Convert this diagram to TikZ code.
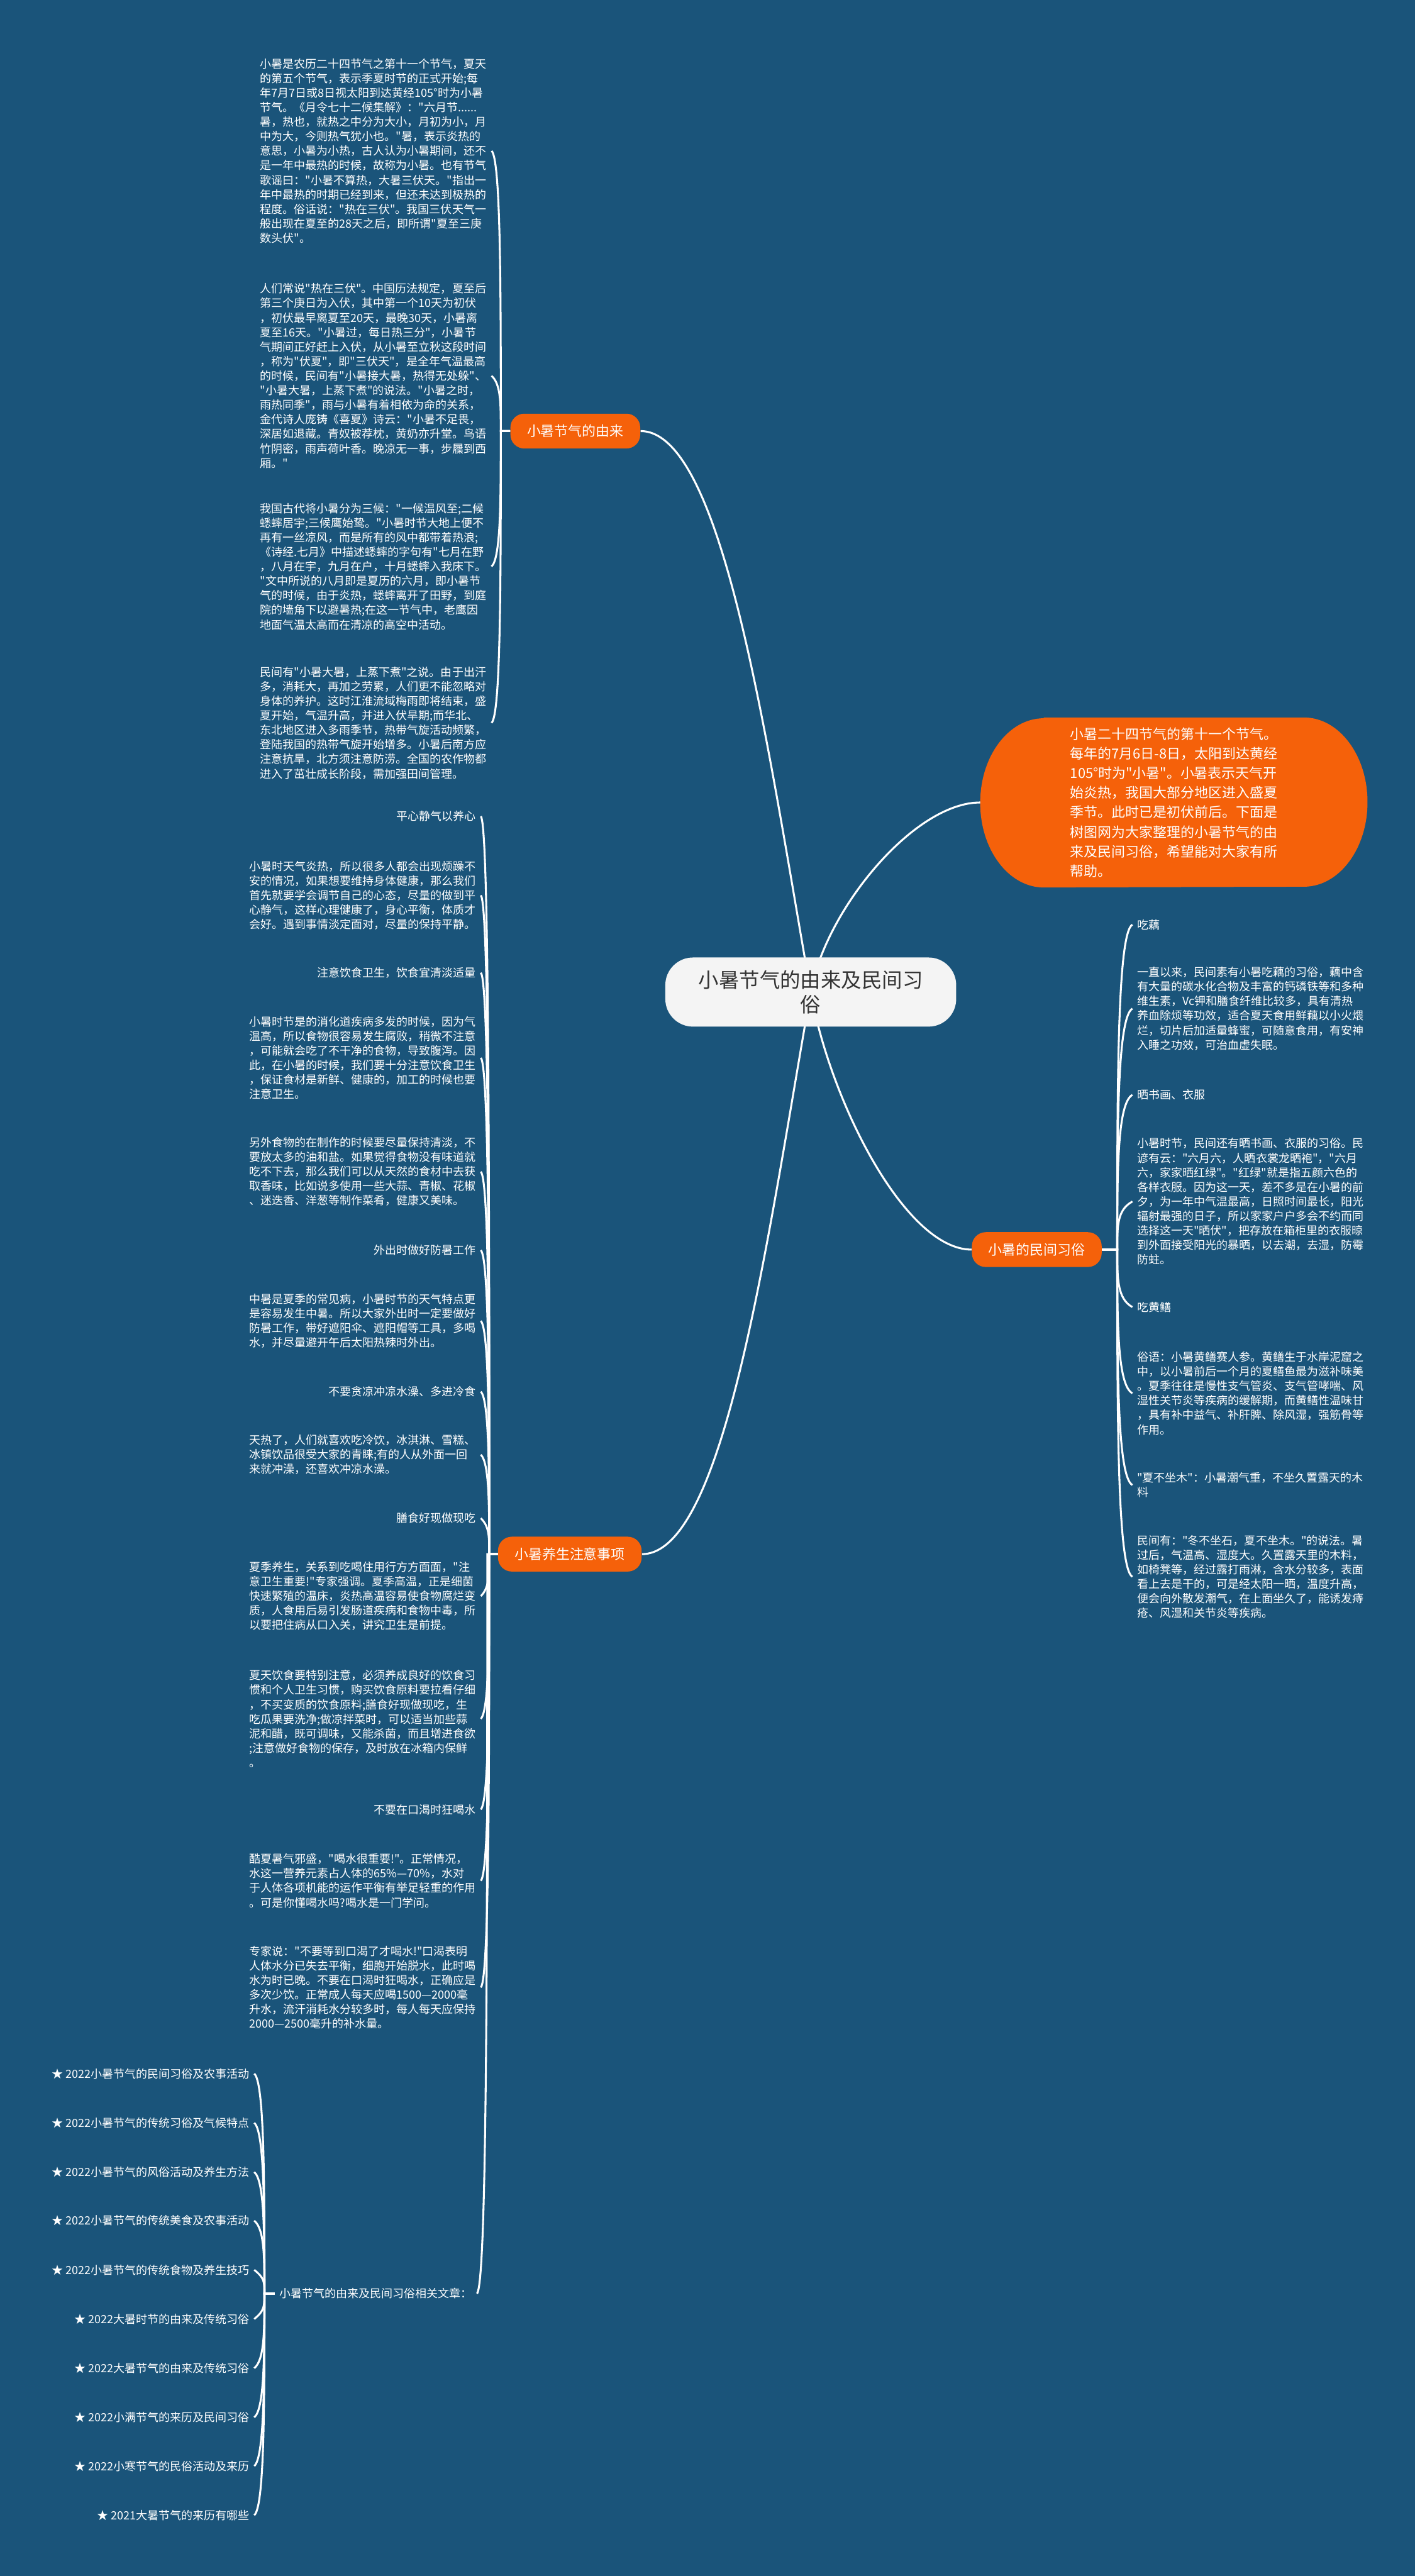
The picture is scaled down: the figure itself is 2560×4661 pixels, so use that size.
\documentclass[tikz,border=0pt]{standalone}
\usepackage{fontspec}
\newfontfamily\cjk{Noto Sans CJK SC}
\usetikzlibrary{calc}
\definecolor{bgc}{RGB}{26,84,122}
\definecolor{orc}{RGB}{245,97,10}
\definecolor{rootc}{RGB}{244,244,244}
\definecolor{roottext}{RGB}{51,51,51}
\pgfdeclarelayer{back}\pgfdeclarelayer{shape}\pgfsetlayers{back,shape,main}
\tikzset{
 conn/.style={draw=white,line width=0.035cm},
 txt/.style={font=\cjk\fontsize{5.83pt}{7.48pt}\selectfont,text=white,inner xsep=0.08cm,inner ysep=0.02cm,align=left},
 branch/.style={fill=orc,rounded corners=0.25cm,text=white,font=\cjk\fontsize{7.1pt}{8.5pt}\selectfont,minimum height=0.63cm,inner xsep=0.3cm},
 rootnode/.style={fill=rootc,rounded corners=0.5cm,text=roottext,font=\cjk\fontsize{10.5pt}{12.8pt}\selectfont,minimum width=5.26cm,minimum height=1.25cm,align=center},
 topright/.style={text=white,font=\cjk\fontsize{7.1pt}{10.1pt}\selectfont,minimum width=6.99cm,minimum height=3.06cm,align=left,inner sep=0pt}
}
\newcommand\mcon[2]{\draw[conn] let \p1=(#1), \p2=(#2), \n1={0.5*(\x1+\x2)}, \n2={0.5*(\y1+\y2)}, \n3={\y2+max(-4.27,min(4.27,0.5*(\y1-\y2)))} in (\p1) -- (\n1,\y1) .. controls (\n1,\n2) and (\n1,\n3) .. (\p2);}
\begin{document}
\begin{tikzpicture}[x=0.01cm,y=-0.01cm]
\useasboundingbox (0,0) rectangle (2560,4661);
\begin{pgfonlayer}{back}
\fill[bgc] (0,0) rectangle (2560,4661);
\end{pgfonlayer}

% root and branches
\node[rootnode] (root) at (1467,1795) {小暑节气的由来及民间习\\俗};
\node[branch] (b1) at (1041,780) {小暑节气的由来};
\node[branch] (b2) at (1031,2812) {小暑养生注意事项};
\node[branch] (b3) at (1876,2261) {小暑的民间习俗};
\node[topright] (tr) at (2124,1452) {小暑二十四节气的第十一个节气。\\%
每年的7月6日-8日，太阳到达黄经\\%
105°时为"小暑"。小暑表示天气开\\%
始炎热，我国大部分地区进入盛夏\\%
季节。此时已是初伏前后。下面是\\%
树图网为大家整理的小暑节气的由\\%
来及民间习俗，希望能对大家有所\\%
帮助。};
\begin{pgfonlayer}{shape}
\fill[orc] ([xshift=1.15cm]tr.north west) -- ([xshift=-1.15cm]tr.north east) arc[start angle=90,end angle=-90,x radius=1.15cm,y radius=1.53cm] -- ([xshift=1.15cm]tr.south west) arc[start angle=270,end angle=90,x radius=1.15cm,y radius=1.53cm] -- cycle;
\draw[conn] (root.center) to[out=100,in=0,out distance=4.5cm,in distance=1.5cm] (b1.east);
\draw[conn] (root.center) to[out=-100,in=0,out distance=4.5cm,in distance=1.5cm] (b2.east);
\draw[conn] (root.center) to[out=80,in=180,out distance=1.5cm,in distance=1.2cm] (tr.west);
\draw[conn] (root.center) to[out=-80,in=180,out distance=2cm,in distance=1.2cm] (b3.west);
\end{pgfonlayer}

% origin blocks
\node[txt,anchor=west] (t1) at (462,273) {小暑是农历二十四节气之第十一个节气，夏天\\%
的第五个节气，表示季夏时节的正式开始;每\\%
年7月7日或8日视太阳到达黄经105°时为小暑\\%
节气。《月令七十二候集解》："六月节......\\%
暑，热也，就热之中分为大小，月初为小，月\\%
中为大，今则热气犹小也。"暑，表示炎热的\\%
意思，小暑为小热，古人认为小暑期间，还不\\%
是一年中最热的时候，故称为小暑。也有节气\\%
歌谣曰："小暑不算热，大暑三伏天。"指出一\\%
年中最热的时期已经到来，但还未达到极热的\\%
程度。俗话说："热在三伏"。我国三伏天气一\\%
般出现在夏至的28天之后，即所谓"夏至三庚\\%
数头伏"。};
\node[txt,anchor=west] (t2) at (462,680) {人们常说"热在三伏"。中国历法规定，夏至后\\%
第三个庚日为入伏，其中第一个10天为初伏\\%
，初伏最早离夏至20天，最晚30天，小暑离\\%
夏至16天。"小暑过，每日热三分"，小暑节\\%
气期间正好赶上入伏，从小暑至立秋这段时间\\%
，称为"伏夏"，即"三伏天"，是全年气温最高\\%
的时候，民间有"小暑接大暑，热得无处躲"、\\%
"小暑大暑，上蒸下煮"的说法。"小暑之时，\\%
雨热同季"，雨与小暑有着相依为命的关系，\\%
金代诗人庞铸《喜夏》诗云："小暑不足畏，\\%
深居如退藏。青奴被荐枕，黄奶亦升堂。鸟语\\%
竹阴密，雨声荷叶香。晚凉无一事，步屧到西\\%
厢。"};
\node[txt,anchor=west] (t3) at (462,1025) {我国古代将小暑分为三候："一候温风至;二候\\%
蟋蟀居宇;三候鹰始鸷。"小暑时节大地上便不\\%
再有一丝凉风，而是所有的风中都带着热浪;\\%
《诗经.七月》中描述蟋蟀的字句有"七月在野\\%
，八月在宇，九月在户，十月蟋蟀入我床下。\\%
"文中所说的八月即是夏历的六月，即小暑节\\%
气的时候，由于炎热，蟋蟀离开了田野，到庭\\%
院的墙角下以避暑热;在这一节气中，老鹰因\\%
地面气温太高而在清凉的高空中活动。};
\node[txt,anchor=west] (t4) at (462,1308) {民间有"小暑大暑，上蒸下煮"之说。由于出汗\\%
多，消耗大，再加之劳累，人们更不能忽略对\\%
身体的养护。这时江淮流域梅雨即将结束，盛\\%
夏开始，气温升高，并进入伏旱期;而华北、\\%
东北地区进入多雨季节，热带气旋活动频繁，\\%
登陆我国的热带气旋开始增多。小暑后南方应\\%
注意抗旱，北方须注意防涝。全国的农作物都\\%
进入了茁壮成长阶段，需加强田间管理。};

% health blocks
\node[txt,anchor=east] (h1) at (870,1477) {平心静气以养心};
\node[txt,anchor=east] (H1) at (870,1620) {小暑时天气炎热，所以很多人都会出现烦躁不\\%
安的情况，如果想要维持身体健康，那么我们\\%
首先就要学会调节自己的心态，尽量的做到平\\%
心静气，这样心理健康了，身心平衡，体质才\\%
会好。遇到事情淡定面对，尽量的保持平静。};
\node[txt,anchor=east] (h2) at (870,1760) {注意饮食卫生，饮食宜清淡适量};
\node[txt,anchor=east] (H2) at (870,1914) {小暑时节是的消化道疾病多发的时候，因为气\\%
温高，所以食物很容易发生腐败，稍微不注意\\%
，可能就会吃了不干净的食物，导致腹泻。因\\%
此，在小暑的时候，我们要十分注意饮食卫生\\%
，保证食材是新鲜、健康的，加工的时候也要\\%
注意卫生。};
\node[txt,anchor=east] (H3) at (870,2120) {另外食物的在制作的时候要尽量保持清淡，不\\%
要放太多的油和盐。如果觉得食物没有味道就\\%
吃不下去，那么我们可以从天然的食材中去获\\%
取香味，比如说多使用一些大蒜、青椒、花椒\\%
、迷迭香、洋葱等制作菜肴，健康又美味。};
\node[txt,anchor=east] (h3) at (870,2262) {外出时做好防暑工作};
\node[txt,anchor=east] (H4) at (870,2390) {中暑是夏季的常见病，小暑时节的天气特点更\\%
是容易发生中暑。所以大家外出时一定要做好\\%
防暑工作，带好遮阳伞、遮阳帽等工具，多喝\\%
水，并尽量避开午后太阳热辣时外出。};
\node[txt,anchor=east] (h4) at (870,2518) {不要贪凉冲凉水澡、多进冷食};
\node[txt,anchor=east] (H5) at (870,2632) {天热了，人们就喜欢吃冷饮，冰淇淋、雪糕、\\%
冰镇饮品很受大家的青睐;有的人从外面一回\\%
来就冲澡，还喜欢冲凉水澡。};
\node[txt,anchor=east] (h5) at (870,2747) {膳食好现做现吃};
\node[txt,anchor=east] (H6) at (870,2888) {夏季养生，关系到吃喝住用行方方面面，"注\\%
意卫生重要!"专家强调。夏季高温，正是细菌\\%
快速繁殖的温床，炎热高温容易使食物腐烂变\\%
质，人食用后易引发肠道疾病和食物中毒，所\\%
以要把住病从口入关，讲究卫生是前提。};
\node[txt,anchor=east] (H7) at (870,3110) {夏天饮食要特别注意，必须养成良好的饮食习\\%
惯和个人卫生习惯，购买饮食原料要拉看仔细\\%
，不买变质的饮食原料;膳食好现做现吃，生\\%
吃瓜果要洗净;做凉拌菜时，可以适当加些蒜\\%
泥和醋，既可调味，又能杀菌，而且增进食欲\\%
;注意做好食物的保存，及时放在冰箱内保鲜\\%
。};
\node[txt,anchor=east] (h6) at (870,3274) {不要在口渴时狂喝水};
\node[txt,anchor=east] (H8) at (870,3403) {酷夏暑气邪盛，"喝水很重要!"。正常情况，\\%
水这一营养元素占人体的65\%—70\%，水对\\%
于人体各项机能的运作平衡有举足轻重的作用\\%
。可是你懂喝水吗?喝水是一门学问。};
\node[txt,anchor=east] (H9) at (870,3596) {专家说："不要等到口渴了才喝水!"口渴表明\\%
人体水分已失去平衡，细胞开始脱水，此时喝\\%
水为时已晚。不要在口渴时狂喝水，正确应是\\%
多次少饮。正常成人每天应喝1500—2000毫\\%
升水，流汗消耗水分较多时，每人每天应保持\\%
2000—2500毫升的补水量。};
\node[txt,anchor=west] (rel) at (497,4150) {小暑节气的由来及民间习俗相关文章：};

% list
\node[txt,anchor=east] (l1) at (460,3752) {★ 2022小暑节气的民间习俗及农事活动};
\node[txt,anchor=east] (l2) at (460,3841) {★ 2022小暑节气的传统习俗及气候特点};
\node[txt,anchor=east] (l3) at (460,3930) {★ 2022小暑节气的风俗活动及养生方法};
\node[txt,anchor=east] (l4) at (460,4018) {★ 2022小暑节气的传统美食及农事活动};
\node[txt,anchor=east] (l5) at (460,4107) {★ 2022小暑节气的传统食物及养生技巧};
\node[txt,anchor=east] (l6) at (460,4196) {★ 2022大暑时节的由来及传统习俗};
\node[txt,anchor=east] (l7) at (460,4285) {★ 2022大暑节气的由来及传统习俗};
\node[txt,anchor=east] (l8) at (460,4374) {★ 2022小满节气的来历及民间习俗};
\node[txt,anchor=east] (l9) at (460,4462) {★ 2022小寒节气的民俗活动及来历};
\node[txt,anchor=east] (l10) at (460,4551) {★ 2021大暑节气的来历有哪些};

% right column
\node[txt,anchor=west] (r1) at (2049,1673) {吃藕};
\node[txt,anchor=west] (R1) at (2049,1825) {一直以来，民间素有小暑吃藕的习俗，藕中含\\%
有大量的碳水化合物及丰富的钙磷铁等和多种\\%
维生素，Vc钾和膳食纤维比较多，具有清热\\%
养血除烦等功效，适合夏天食用鲜藕以小火煨\\%
烂，切片后加适量蜂蜜，可随意食用，有安神\\%
入睡之功效，可治血虚失眠。};
\node[txt,anchor=west] (r2) at (2049,1981) {晒书画、衣服};
\node[txt,anchor=west] (R2) at (2049,2174) {小暑时节，民间还有晒书画、衣服的习俗。民\\%
谚有云："六月六，人晒衣裳龙晒袍"，"六月\\%
六，家家晒红绿"。"红绿"就是指五颜六色的\\%
各样衣服。因为这一天，差不多是在小暑的前\\%
夕，为一年中气温最高，日照时间最长，阳光\\%
辐射最强的日子，所以家家户户多会不约而同\\%
选择这一天"晒伏"，把存放在箱柜里的衣服晾\\%
到外面接受阳光的暴晒，以去潮，去湿，防霉\\%
防蛀。};
\node[txt,anchor=west] (r3) at (2049,2365) {吃黄鳝};
\node[txt,anchor=west] (R3) at (2049,2521) {俗语：小暑黄鳝赛人参。黄鳝生于水岸泥窟之\\%
中，以小暑前后一个月的夏鳝鱼最为滋补味美\\%
。夏季往往是慢性支气管炎、支气管哮喘、风\\%
湿性关节炎等疾病的缓解期，而黄鳝性温味甘\\%
，具有补中益气、补肝脾、除风湿，强筋骨等\\%
作用。};
\node[txt,anchor=west] (r4) at (2049,2687) {"夏不坐木"：小暑潮气重，不坐久置露天的木\\%
料};
\node[txt,anchor=west] (R4) at (2049,2853) {民间有："冬不坐石，夏不坐木。"的说法。暑\\%
过后，气温高、湿度大。久置露天里的木料，\\%
如椅凳等，经过露打雨淋，含水分较多，表面\\%
看上去是干的，可是经太阳一晒，温度升高，\\%
便会向外散发潮气，在上面坐久了，能诱发痔\\%
疮、风湿和关节炎等疾病。};

% connectors
\mcon{b1.west}{t1.east}
\mcon{b1.west}{t2.east}
\mcon{b1.west}{t3.east}
\mcon{b1.west}{t4.east}
\foreach \c in {h1,H1,h2,H2,H3,h3,H4,h4,H5,h5,H6,H7,h6,H8,H9,rel}{\mcon{b2.west}{\c.east}}
\foreach \c in {l1,l2,l3,l4,l5,l6,l7,l8,l9,l10}{\mcon{rel.west}{\c.east}}
\foreach \c in {r1,R1,r2,R2,r3,R3,r4,R4}{\mcon{b3.east}{\c.west}}
\end{tikzpicture}
\end{document}
